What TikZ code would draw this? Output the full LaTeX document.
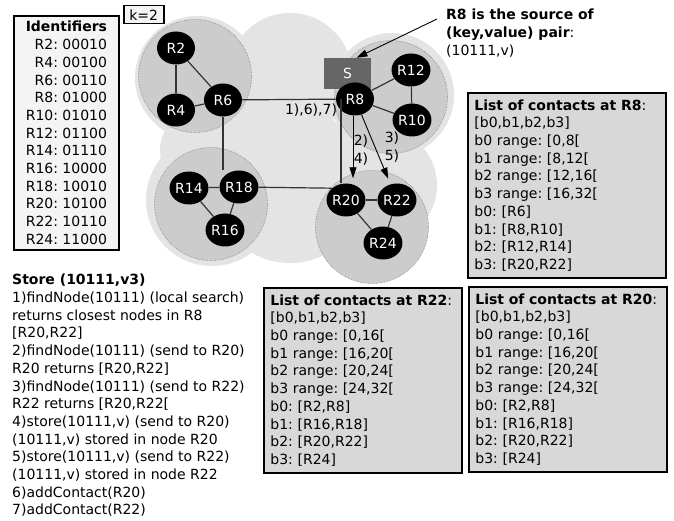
\documentclass[tikz,border=0pt]{standalone}
\usepackage{fontspec}
\setmainfont{DejaVu Sans}
\usetikzlibrary{arrows.meta,shapes.geometric}
\frenchspacing
\definecolor{cloudgray}{HTML}{E4E4E4}
\definecolor{clustergray}{HTML}{CCCCCC}
\definecolor{boxgray}{HTML}{D8D8D8}
\definecolor{idgray}{HTML}{F4F4F4}
\definecolor{sgray}{HTML}{666666}
\definecolor{linegray}{HTML}{333333}
\tikzset{
  router/.style={ellipse, fill=black, text=white, minimum width=38pt, minimum height=33pt, inner sep=0pt},
  cluster/.style={fill=clustergray, draw=gray, densely dotted, line width=0.6pt},
  link/.style={draw=linegray, line width=1.2pt},
  hop/.style={-{Triangle[length=11pt,width=7pt]}, line width=0.9pt},
  listbox/.style={draw, line width=1.8pt, fill=boxgray, anchor=north west, align=left, text width=185pt, inner xsep=6.5pt, minimum height=185pt},
  idbox/.style={draw, line width=1.8pt, fill=idgray, anchor=north west, align=right, minimum width=105pt, minimum height=234pt},
  plain/.style={anchor=north west, align=left, inner sep=0pt}
}
\begin{document}
\begin{tikzpicture}[x=1pt, y=-1pt, every node/.style={font=\fontsize{14}{17.7}\selectfont}]
\useasboundingbox (0,0) rectangle (674,521);
% cloud and clusters
\foreach \cx/\cy/\r in {197/78/62, 290/75/62, 392/95/62, 200/150/40, 260/130/50, 212/200/66, 290/185/78, 380/185/57}
  \fill[cloudgray] (\cx,\cy) circle (\r pt);
\foreach \cx/\cy in {195/76, 211/204, 391/97, 372/227}
  \filldraw[cluster] (\cx,\cy) circle (56.5pt);

\node[idbox] (ids) at (13,15) {\textbf{Identifiers}\\R2: 00010\\R4: 00100\\R6: 00110\\R8: 01000\\R10: 01010\\R12: 01100\\R14: 01110\\R16: 10000\\R18: 10010\\R20: 10100\\R22: 10110\\R24: 11000};
\node[draw, line width=1.5pt, fill=idgray, anchor=north west, minimum width=40pt, minimum height=18pt, inner sep=1pt] (k) at (123,5) {k=2};

\node[fill=sgray, text=white, minimum width=47pt, minimum height=31pt] (S) at (347.5,73.5) {S};

\node[router] (R2) at (176,48) {R2};
\node[router] (R4) at (176,110) {R4};
\node[router] (R6) at (223,100) {R6};
\node[router] (R14) at (189,188) {R14};
\node[router] (R18) at (239,187) {R18};
\node[router] (R16) at (225,230) {R16};
\node[router] (R8) at (355,99) {R8};
\node[router] (R12) at (411,70) {R12};
\node[router] (R10) at (412,120) {R10};
\node[router] (R20) at (346,200) {R20};
\node[router] (R22) at (397,200) {R22};
\node[router] (R24) at (383,243) {R24};

\draw[link] (R2) -- (R4);
\draw[link] (R2) -- (R6);
\draw[link] (R4) -- (R6);
\draw[link] (R6) -- (R8);
\draw[link] (R6) -- (R6 |- R18.north);
\draw[link] (R14) -- (R18);
\draw[link] (R14) -- (R16);
\draw[link] (R16) -- (R18);
\draw[link] (R18) -- (R20.north west);
\draw[link] (R8) -- (R12);
\draw[link] (R8) -- (R10);
\draw[link] (R12) -- (R10);
\draw[link] (R20) -- (R22);
\draw[link] (R20) -- (R24);
\draw[link] (R22) -- (R24);
\coordinate (turn) at (341,99);
\draw[link] (turn) -- (turn |- R20.north);

\draw[hop, shorten >=5pt] ([xshift=-2pt]R8.south) -- ([xshift=-2pt]R8.south |- R20.north);
\draw[hop, shorten >=6pt] (R8) -- (R22);

\node (l1) at (311,110) {1),6),7)};
\node (l2) at (361,141) {2)};
\node (l4) at (361,159) {4)};
\node (l3) at (392,138) {3)};
\node (l5) at (392,156) {5)};

\node[plain] (note) at (446,9) {\textbf{R8 is the source of}\\\textbf{(key,value) pair}:\\(10111,v)};
\coordinate (tail) at (437,19);
\draw[hop] (tail) -- ([xshift=9pt]S.north);

\node[listbox] (c8) at (467,92) {\textbf{List of contacts at R8}:\\{[b0,b1,b2,b3]}\\b0 range: [0,8[\\b1 range: [8,12[\\b2 range: [12,16[\\b3 range: [16,32[\\b0: [R6]\\b1: [R8,R10]\\b2: [R12,R14]\\b3: [R20,R22]};
\node[listbox] (c22) at (263,287) {\textbf{List of contacts at R22}:\\{[b0,b1,b2,b3]}\\b0 range: [0,16[\\b1 range: [16,20[\\b2 range: [20,24[\\b3 range: [24,32[\\b0: [R2,R8]\\b1: [R16,R18]\\b2: [R20,R22]\\b3: [R24]};
\node[listbox] (c20) at (468,286) {\textbf{List of contacts at R20}:\\{[b0,b1,b2,b3]}\\b0 range: [0,16[\\b1 range: [16,20[\\b2 range: [20,24[\\b3 range: [24,32[\\b0: [R2,R8]\\b1: [R16,R18]\\b2: [R20,R22]\\b3: [R24]};

\node[plain] (store) at (12,274) {\textbf{Store (10111,v3)}\\1)findNode(10111) (local search)\\returns closest nodes in R8\\{[R20,R22]}\\2)findNode(10111) (send to R20)\\R20 returns [R20,R22]\\3)findNode(10111) (send to R22)\\R22 returns [R20,R22[\\4)store(10111,v) (send to R20)\\(10111,v) stored in node R20\\5)store(10111,v) (send to R22)\\(10111,v) stored in node R22\\6)addContact(R20)\\7)addContact(R22)};
\end{tikzpicture}
\end{document}
